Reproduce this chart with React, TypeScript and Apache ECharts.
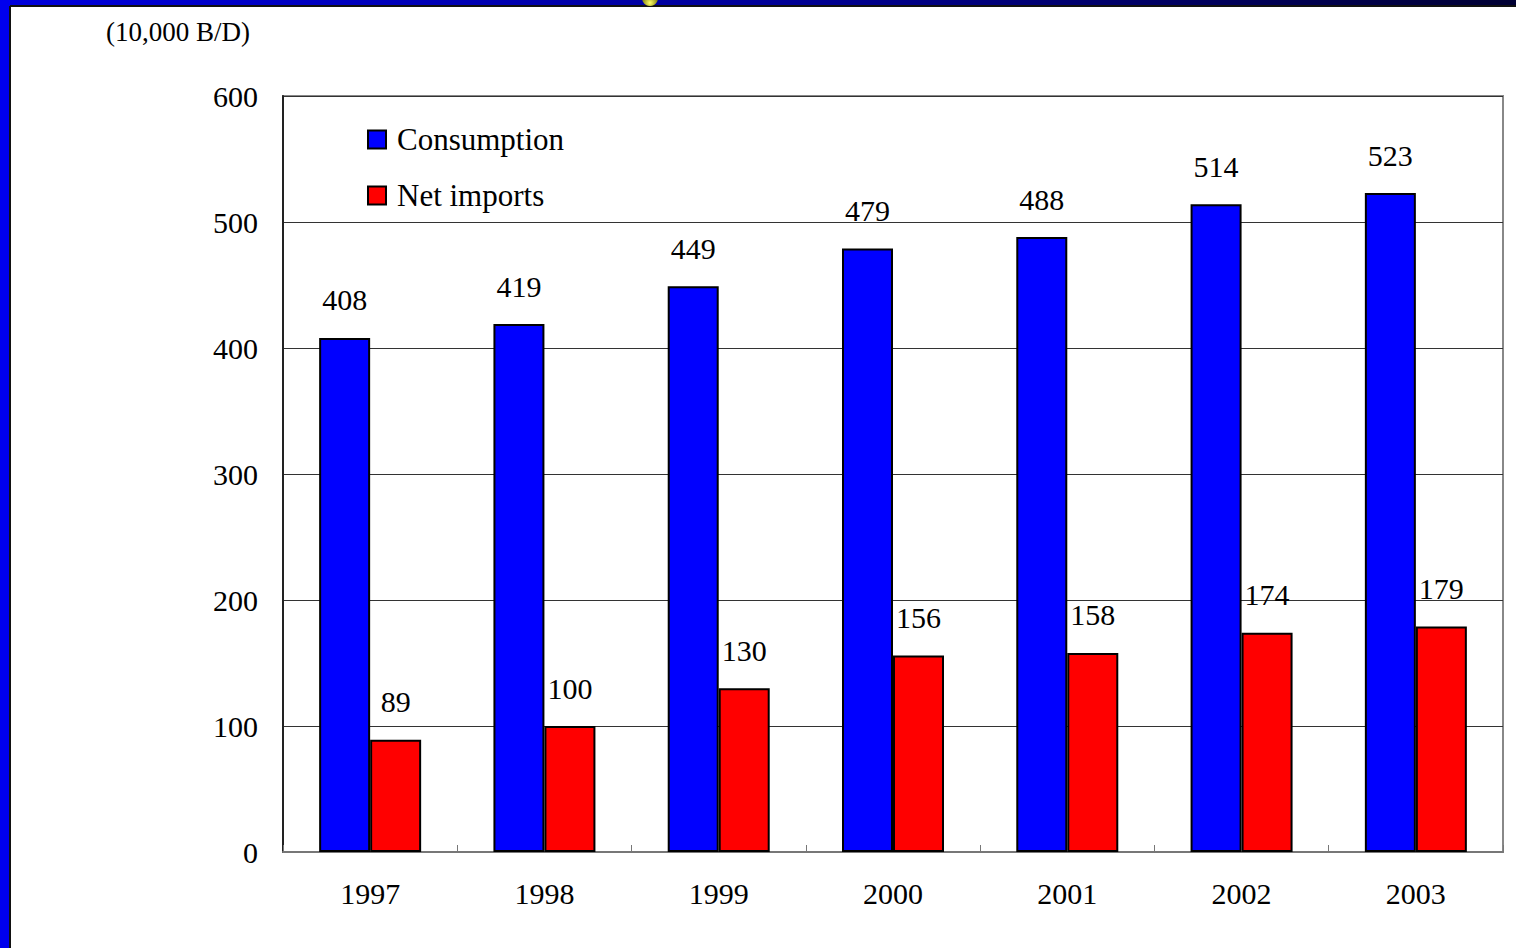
import React, { useEffect, useRef } from "react";
import * as echarts from "echarts";

const years = ["1997", "1998", "1999", "2000", "2001", "2002", "2003"];
const consumption = [408, 419, 449, 479, 488, 514, 523];
const netImports = [89, 100, 130, 156, 158, 174, 179];
const unitLabel = "(10,000 B/D)";

const FONT = "Liberation Serif, Times New Roman, serif";

export default function App() {
  const ref = useRef<HTMLDivElement>(null);
  useEffect(() => {
    if (!ref.current) return;
    const chart = echarts.init(ref.current, null, { renderer: "svg" });
    const labelStyle = {
      show: true,
      position: "top" as const,
      distance: 23,
      fontSize: 30,
      fontFamily: FONT,
      color: "#000",
    };
    chart.setOption({
      animation: false,
      backgroundColor: "#fff",
      textStyle: { fontFamily: FONT },
      graphic: [
        {
          type: "rect",
          shape: { x: 0, y: 0, width: 1516, height: 6 },
          style: {
            fill: new echarts.graphic.LinearGradient(0, 0, 1, 0, [
              { offset: 0, color: "#0000dd" },
              { offset: 0.5, color: "#000099" },
              { offset: 1, color: "#000033" },
            ]),
          },
          z: 10,
        },
        {
          type: "rect",
          shape: { x: 0, y: 5, width: 1516, height: 2 },
          style: { fill: "#111" },
          z: 10,
        },
        {
          type: "rect",
          shape: { x: 0, y: 0, width: 10, height: 948 },
          style: { fill: "#0000ee" },
          z: 11,
        },
        {
          type: "rect",
          shape: { x: 9, y: 6, width: 2, height: 942 },
          style: { fill: "#111" },
          z: 11,
        },
        {
          type: "circle",
          shape: { cx: 650, cy: -2, r: 8 },
          style: {
            fill: new echarts.graphic.RadialGradient(0.5, 0.8, 0.6, [
              { offset: 0, color: "#ffff66" },
              { offset: 1, color: "#666600" },
            ]),
          },
          z: 12,
        },
        {
          type: "text",
          left: 106,
          top: 18,
          style: {
            text: unitLabel,
            fontSize: 27,
            fontFamily: FONT,
            fill: "#000",
          },
        },
      ],
      legend: {
        orient: "vertical",
        left: 362,
        top: 119,
        itemWidth: 18,
        itemHeight: 18,
        itemGap: 25,
        icon: "rect",
        textStyle: { fontSize: 31, fontFamily: FONT, color: "#000", padding: [0, 0, 0, 6] },
        data: ["Consumption", "Net imports"],
      },
      grid: {
        left: 283,
        top: 96,
        width: 1220,
        height: 756,
        show: true,
        borderColor: "#888",
        borderWidth: 2,
        backgroundColor: "transparent",
      },
      xAxis: {
        type: "category",
        data: years,
        axisLine: { lineStyle: { color: "#777", width: 2 } },
        axisTick: { show: true, inside: true, length: 7, lineStyle: { color: "#777" } },
        axisLabel: { fontSize: 30, fontFamily: FONT, color: "#000", margin: 26 },
      },
      yAxis: {
        type: "value",
        min: 0,
        max: 600,
        interval: 100,
        axisLine: { show: true, lineStyle: { color: "#222", width: 2 } },
        axisTick: { show: false },
        axisLabel: { fontSize: 30, fontFamily: FONT, color: "#000", margin: 25 },
        splitLine: { show: true, lineStyle: { color: "#333", width: 1 } },
      },
      series: [
        {
          name: "Consumption",
          type: "bar",
          data: consumption,
          barWidth: 51,
          barGap: "0%",
          itemStyle: { color: "#0000ff", borderColor: "#000", borderWidth: 2 },
          label: labelStyle,
        },
        {
          name: "Net imports",
          type: "bar",
          data: netImports,
          barWidth: 51,
          barGap: "0%",
          itemStyle: { color: "#ff0000", borderColor: "#000", borderWidth: 2 },
          label: labelStyle,
        },
      ],
    });
    return () => chart.dispose();
  }, []);
  return (
    <div
      ref={ref}
      style={{ position: "fixed", left: 0, top: 0, width: 1516, height: 948 }}
    />
  );
}
